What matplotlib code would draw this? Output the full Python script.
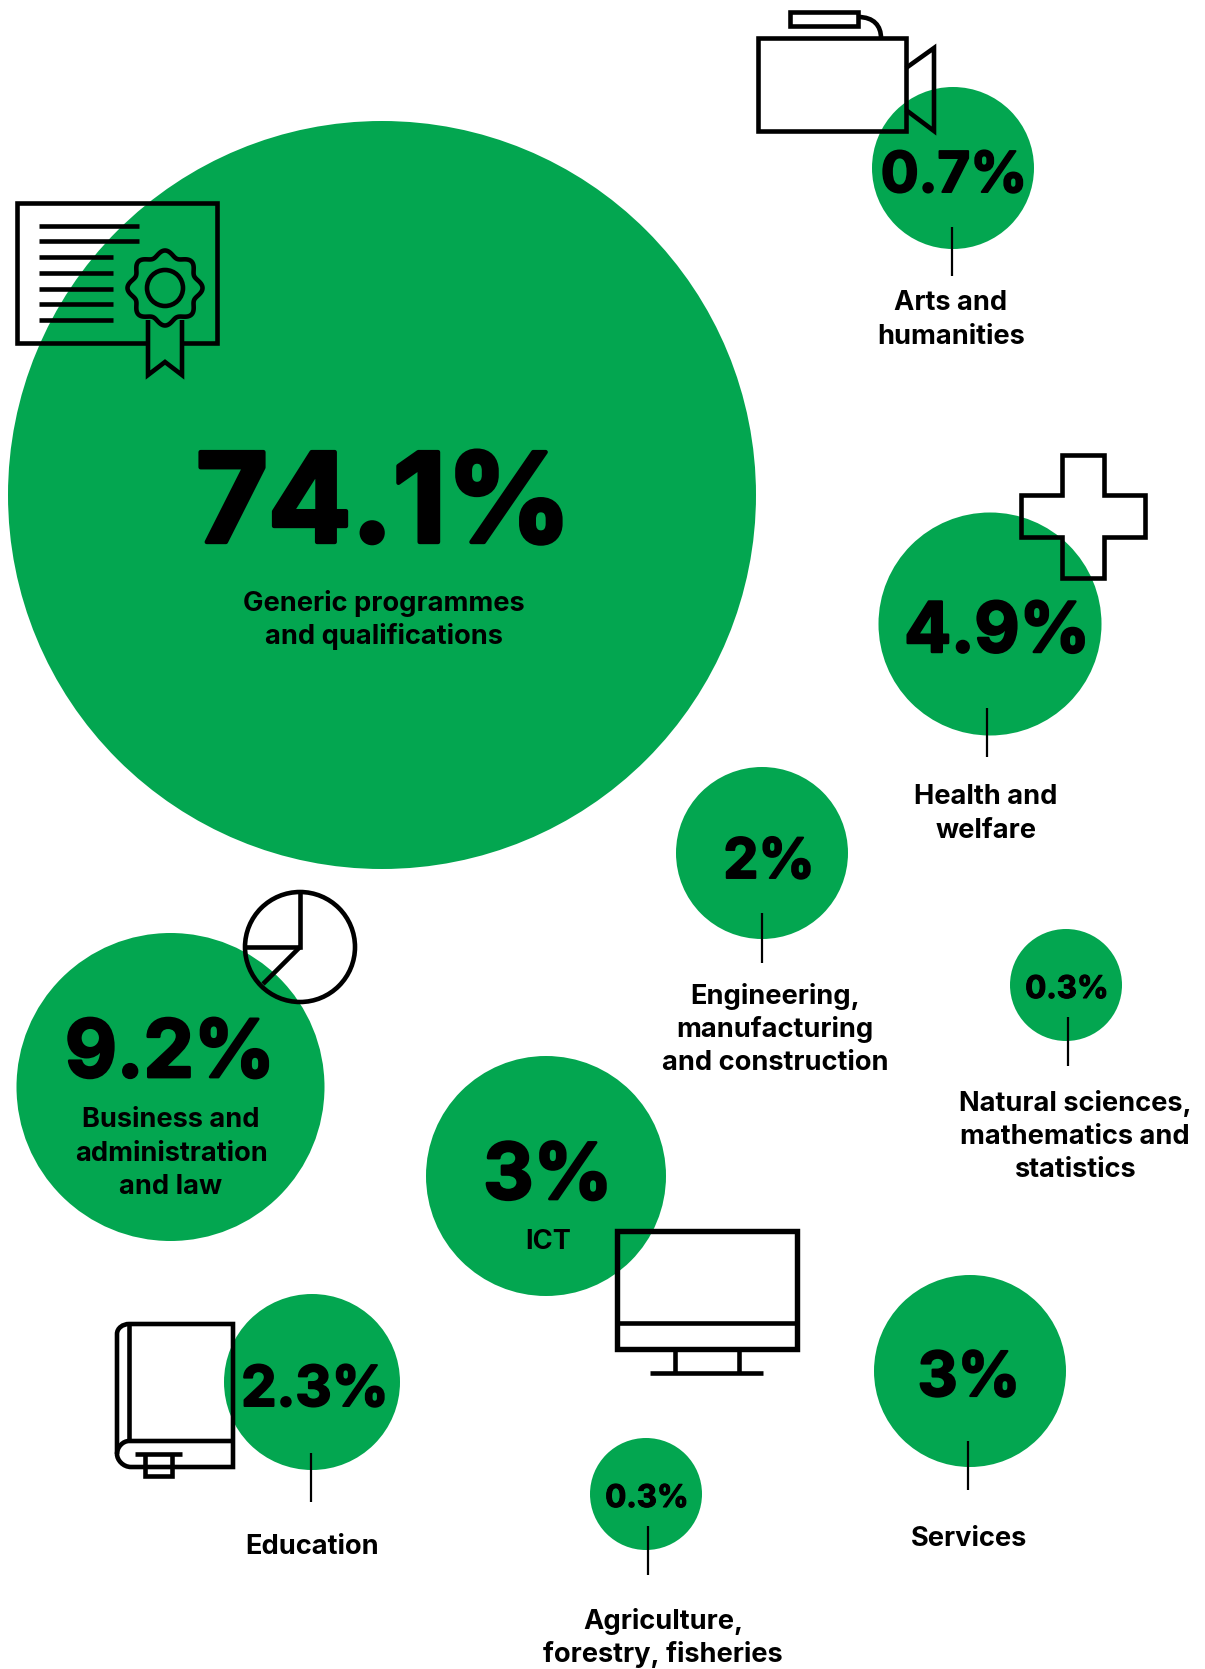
"""
Bubble layout of enrolment shares by field of education, with outline icons.
"""
import numpy as np
import matplotlib
matplotlib.use('Agg')
import matplotlib.pyplot as plt
import matplotlib.patheffects as pe
from matplotlib.patches import Circle, Polygon, Rectangle, PathPatch
from matplotlib.path import Path

plt.rcParams['font.family'] = ['Inter', 'DejaVu Sans']

# shares in percent, one per field
fields = ['Generic programmes\nand qualifications', 'Arts and\nhumanities', 'Health and\nwelfare',
          'Engineering,\nmanufacturing\nand construction', 'Natural sciences,\nmathematics and\nstatistics',
          'Business and\nadministration\nand law', 'ICT', 'Services', 'Education',
          'Agriculture,\nforestry, fisheries']
shares = [74.1, 0.7, 4.9, 2, 0.3, 9.2, 3, 3, 2.3, 0.3]

# bubble centres and radii, in pixels from the top left
bubble_x = [382, 953, 990, 762, 1066, 170.5, 546, 970, 312, 646]
bubble_y = [495, 168, 624, 853, 985, 1087, 1176, 1371, 1382, 1494]
bubble_r = [374, 81, 111.5, 86, 56, 154, 120, 96, 88, 56]

# share text: centre x, baseline y, size in points
value_x = [384, 954, 997, 769, 1067, 170, 548, 969, 315, 647]
value_y = [542, 192, 652, 878, 998, 1077, 1199, 1396, 1406, 1507]
value_size = [89, 40.5, 50, 40, 22.5, 57.5, 56, 44.5, 40.5, 22.5]

# field text: centre x, first line centre y
label_x = [384, 951, 986, 775, 1075, 171, 548, 969, 312, 663]
label_y = [603, 303, 797, 996, 1103, 1120, 1242, 1539, 1547, 1621]

# leader lines under some bubbles: x, y0, y1 (None when the text sits inside the bubble)
leader_x = [None, 952, 987, 762, 1068, None, None, 968, 311, 648]
leader_y0 = [None, 227, 708, 913, 1017, None, None, 1441, 1453, 1526]
leader_y1 = [None, 276, 757, 963, 1066, None, None, 1490, 1502, 1575]

GREEN = '#03a650'
LW = 3.3
LINE_STEP = 33.5

fig = plt.figure(figsize=(12.05, 16.69), dpi=100)
ax = fig.add_axes([0, 0, 1, 1])
ax.set_xlim(0, 1205)
ax.set_ylim(1669, 0)
ax.axis('off')


def outline(verts, closed=False, z=3):
    ax.add_patch(Polygon(verts, closed=closed, fill=False, edgecolor='black',
                         linewidth=LW, joinstyle='miter', capstyle='butt', zorder=z))


def draw_path(verts, codes, z=3):
    ax.add_patch(PathPatch(Path(verts, codes), facecolor='none', edgecolor='black', linewidth=LW,
                           joinstyle='miter', capstyle='butt', zorder=z))


for x, y, r in zip(bubble_x, bubble_y, bubble_r):
    ax.add_patch(Circle((x, y), r, facecolor=GREEN, edgecolor='none', zorder=1))

for v, x, y, s in zip(shares, value_x, value_y, value_size):
    # a thin stroke makes the numerals heavier without the width of the Black cut
    ax.text(x, y, f'{v}%', ha='center', va='baseline', fontsize=s, fontweight='bold', color='black', zorder=5,
            path_effects=[pe.withStroke(linewidth=s * 0.035, foreground='black')])

for name, x, y in zip(fields, label_x, label_y):
    for i, line in enumerate(name.split('\n')):
        ax.text(x, y + i * LINE_STEP, line, ha='center', va='center', fontsize=19.6, fontweight='bold',
                color='black', zorder=5)

for x, y0, y1 in zip(leader_x, leader_y0, leader_y1):
    if x is not None:
        ax.plot([x, x], [y0, y1], color='black', linewidth=1.6, solid_capstyle='butt', zorder=4)

# certificate
outline([(148, 343), (17, 343), (17, 203), (217, 203), (217, 343), (182, 343)])
for y, x1 in zip([226, 241, 257, 273, 289, 304, 320], [139, 139, 113, 113, 113, 113, 113]):
    outline([(39, y), (x1, y)])
theta = np.linspace(0, 2 * np.pi, 361)
seal_r = 34.5 + 3 * np.cos(8 * (theta - np.pi / 2))
outline(np.column_stack([165 + seal_r * np.cos(theta), 288 + seal_r * np.sin(theta)]), closed=True)
ax.add_patch(Circle((165, 288), 18, fill=False, edgecolor='black', linewidth=LW, zorder=3))
outline([(148, 320), (148, 375), (165, 362), (182, 375), (182, 320)])

# camera
ax.add_patch(Rectangle((758, 38), 148, 93, fill=False, edgecolor='black', linewidth=LW,
                       joinstyle='miter', zorder=3))
ax.add_patch(Rectangle((790, 12), 68, 14, fill=False, edgecolor='black', linewidth=LW,
                       joinstyle='miter', zorder=3))
draw_path([(858, 17), (874, 17), (881, 26), (881, 38)],
          [Path.MOVETO, Path.CURVE4, Path.CURVE4, Path.CURVE4])
outline([(906, 68), (934, 48), (934, 131), (906, 110)])

# cross
outline([(1062, 455), (1104, 455), (1104, 495), (1145, 495), (1145, 537), (1104, 537), (1104, 578),
         (1062, 578), (1062, 537), (1021, 537), (1021, 495), (1062, 495)], closed=True)

# pie
ax.add_patch(Circle((300, 947), 55, fill=False, edgecolor='black', linewidth=LW, zorder=3))
outline([(300, 892), (300, 947), (245, 947)])
outline([(300, 947), (263, 984)])

# monitor
ax.add_patch(Rectangle((617, 1231), 180, 118, fill=False, edgecolor='black', linewidth=LW + 0.6,
                       joinstyle='miter', zorder=3))
outline([(617, 1323), (797, 1323)])
outline([(675, 1349), (675, 1373)])
outline([(739, 1349), (739, 1373)])
outline([(650, 1373), (763, 1373)])

# book
draw_path([(129, 1324), (233, 1324), (233, 1467), (131, 1467), (123, 1467), (117, 1460), (117, 1454),
           (117, 1334), (117, 1328), (123, 1324), (129, 1324), (129, 1324)],
          [Path.MOVETO, Path.LINETO, Path.LINETO, Path.LINETO, Path.CURVE4, Path.CURVE4, Path.CURVE4,
           Path.LINETO, Path.CURVE4, Path.CURVE4, Path.CURVE4, Path.CLOSEPOLY])
outline([(129, 1324), (129, 1441)])
draw_path([(233, 1441), (129, 1441), (123, 1441), (117, 1447), (117, 1454)],
          [Path.MOVETO, Path.LINETO, Path.CURVE4, Path.CURVE4, Path.CURVE4])
outline([(135, 1454), (182, 1454)])
outline([(145, 1454), (145, 1476), (172, 1476), (172, 1454)])

fig.savefig('out.png', dpi=100, facecolor='white')
